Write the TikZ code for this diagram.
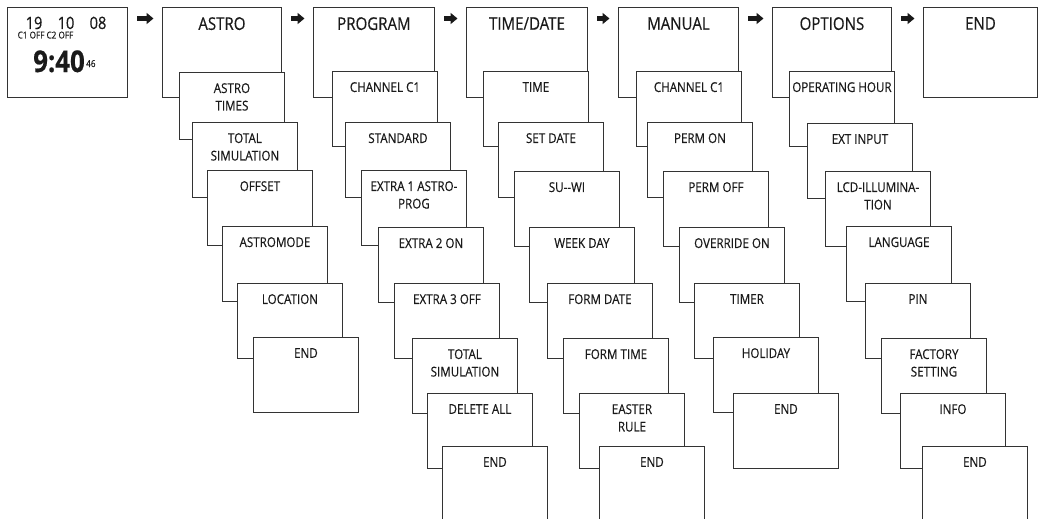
\documentclass[tikz,border=0pt]{standalone}
\usepackage{fontspec}
\setmainfont{Open Sans}[FakeStretch=0.86, FakeBold=0.35]
\usetikzlibrary{arrows.meta,calc}
\definecolor{linec}{HTML}{333333}
\definecolor{txtc}{HTML}{1a1a1a}
\tikzset{
  mainbox/.style={draw=linec, line width=0.9pt, fill=white, anchor=north west,
    minimum width=120pt, minimum height=90pt, inner sep=0pt},
  subbox/.style={draw=linec, line width=0.9pt, fill=white, anchor=north west,
    minimum width=105pt, minimum height=75pt, inner sep=0pt},
  maintext/.style={anchor=north, inner sep=0pt, text=txtc,
    font=\fontsize{17.5}{21}\selectfont},
  subtext/.style={anchor=north, inner sep=0pt, align=center, text=txtc,
    font=\fontsize{13.5}{17.5}\selectfont},
  flowarrow/.style={line width=5pt, draw=black!90,
    -{Triangle[length=7pt,width=11pt]}},
  clocktext/.style={anchor=base, inner sep=0pt, text=txtc},
}
\newcommand{\maincard}[4]{%
  \node[mainbox, minimum width=#4] (#1) at (#2,7) {};
  \node[maintext] (#1-t) at ([yshift=-10pt]#1.north) {#3};}
\newcommand{\subcard}[4]{%
  \node[subbox] (#1) at (#2,#3) {};
  \node[subtext] (#1-t) at ([yshift=-11pt]#1.north) {#4};}
\begin{document}
\begin{tikzpicture}[x=1pt, y=-1pt]
\useasboundingbox (0,0) rectangle (1038,519);

% ---- main row
\node[mainbox] (clock) at (7,7) {};
\node[clocktext, font=\fontsize{17}{20}\selectfont] (d19) at (34,29) {19};
\node[clocktext, font=\fontsize{17}{20}\selectfont] (d10) at (66,29) {10};
\node[clocktext, font=\fontsize{17}{20}\selectfont] (d08) at (98,29) {08};
\node[clocktext, font=\fontsize{9.5}{11}\selectfont] (coff) at (45.5,38.5) {C1 OFF C2 OFF};
\node[clocktext, font=\bfseries\fontsize{30}{34}\selectfont] (time) at (59,72) {9:40};
\node[clocktext, font=\fontsize{9.5}{11}\selectfont, anchor=base west] (secs) at ($(time.base east)+(1,-5)$) {46};

\maincard{astro}{162}{ASTRO}{119pt}
\maincard{program}{313}{PROGRAM}{121pt}
\maincard{timedate}{466}{TIME/DATE}{121pt}
\maincard{manual}{618}{MANUAL}{120pt}
\maincard{options}{772}{OPTIONS}{119pt}
\maincard{endm}{923}{END}{114pt}

\foreach \a/\b in {clock/astro, astro/program, program/timedate,
                   timedate/manual, manual/options, options/endm}
  \draw[flowarrow] ($(\a.north east)+(9.5,11.5)$) -- ($(\b.north west)+(-8.5,11.5)$);

% ---- ASTRO column
\node[subbox, minimum height=67pt] (a1) at (179,72) {};
\node[subtext] (a1-t) at ([yshift=-11pt]a1.north) {ASTRO\\TIMES};
\subcard{a2}{192}{122}{TOTAL\\SIMULATION}
\subcard{a3}{207}{170}{OFFSET}
\subcard{a4}{222}{226}{ASTROMODE}
\subcard{a5}{237}{283}{LOCATION}
\subcard{a6}{253}{337}{END}

% ---- PROGRAM column
\subcard{p1}{332}{71}{CHANNEL C1}
\subcard{p2}{345}{122}{STANDARD}
\subcard{p3}{361}{170}{EXTRA 1 ASTRO-\\PROG}
\subcard{p4}{378}{227}{EXTRA 2 ON}
\subcard{p5}{394}{283}{EXTRA 3 OFF}
\subcard{p6}{412}{338}{TOTAL\\SIMULATION}
\subcard{p7}{427}{393}{DELETE ALL}
\subcard{p8}{442}{446}{END}

% ---- TIME/DATE column
\subcard{t1}{483}{71}{TIME}
\subcard{t2}{498}{122}{SET DATE}
\subcard{t3}{514}{171}{SU-{}-WI}
\subcard{t4}{529}{227}{WEEK DAY}
\subcard{t5}{547}{283}{FORM DATE}
\subcard{t6}{563}{338}{FORM TIME}
\subcard{t7}{579}{393}{EASTER\\RULE}
\subcard{t8}{599}{446}{END}

% ---- MANUAL column
\subcard{m1}{636}{71}{CHANNEL C1}
\subcard{m2}{647}{122}{PERM ON}
\subcard{m3}{663}{171}{PERM OFF}
\subcard{m4}{679}{227}{OVERRIDE ON}
\subcard{m5}{694}{283}{TIMER}
\subcard{m6}{713}{337}{HOLIDAY}
\subcard{m7}{733}{393}{END}

% ---- OPTIONS column
\subcard{o1}{789}{71}{OPERATING HOUR}
\subcard{o2}{807}{123}{EXT INPUT}
\subcard{o3}{825}{171}{LCD-ILLUMINA-\\TION}
\subcard{o4}{846}{226}{LANGUAGE}
\subcard{o5}{865}{283}{PIN}
\subcard{o6}{881}{338}{FACTORY\\SETTING}
\subcard{o7}{900}{393}{INFO}
\subcard{o8}{922}{446}{END}
\end{tikzpicture}
\end{document}
